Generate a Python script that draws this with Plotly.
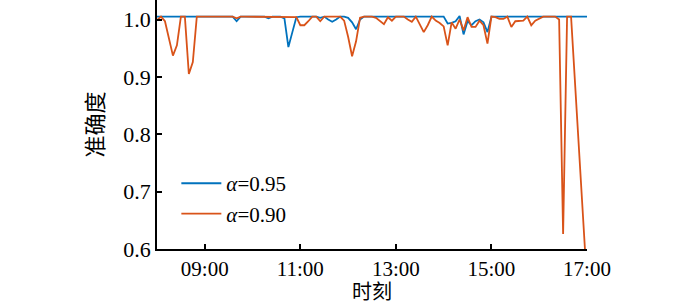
import plotly.graph_objects as go
from datetime import datetime, timedelta

# sampling times: every 5 minutes from 08:00 to 17:00
start = datetime(2020, 1, 1, 8, 0)
times = [start + timedelta(minutes=5 * i) for i in range(109)]

acc_095 = [
    1.005, 1.005, 1.005, 1.005, 1.005, 1.005, 1.005, 1.005, 1.005, 1.005,  # 0-9
    1.005, 1.005, 1.005, 1.005, 1.005, 1.005, 1.005, 1.005, 1.005, 1.005,  # 10-19
    0.997, 1.005, 1.005, 1.005, 1.005, 1.005, 1.005, 1.005, 1.002, 1.005,  # 20-29
    1.005, 1.005, 1.002, 0.952, 0.978, 1.004, 1.005, 1.005, 1.005, 1.005,  # 30-39
    1.005, 1.003, 1.005, 1.000, 0.996, 1.000, 1.005, 1.005, 1.003, 0.995,  # 40-49
    0.983, 1.000, 1.005, 1.005, 1.005, 1.005, 1.005, 1.005, 1.005, 1.005,  # 50-59
    1.005, 1.005, 1.005, 1.005, 1.005, 1.005, 1.005, 1.005, 1.005, 1.005,  # 60-69
    1.005, 1.005, 1.005, 0.993, 0.994, 0.997, 1.006, 0.974, 0.997, 0.990,  # 70-79
    0.997, 1.000, 0.995, 0.978, 1.005, 1.005, 1.005, 1.005, 1.005, 1.005,  # 80-89
    1.005, 1.005, 1.005, 1.005, 1.005, 1.005, 1.005, 1.005, 1.005, 1.005,  # 90-99
    1.005, 1.005, 1.005, 1.005, 1.005, 1.005, 1.005, 1.005, 1.005,         # 100-108
]

acc_090 = [
    0.999, 1.005, 0.997, 0.968, 0.937, 0.955, 1.005, 1.005, 0.905, 0.926,  # 0-9
    1.005, 1.005, 1.005, 1.005, 1.005, 1.005, 1.005, 1.005, 1.005, 1.005,  # 10-19
    1.002, 1.005, 1.005, 1.005, 1.005, 1.005, 1.005, 1.005, 1.005, 1.005,  # 20-29
    1.005, 1.005, 1.005, 1.005, 1.005, 1.004, 0.990, 0.990, 0.997, 1.005,  # 30-39
    1.005, 0.997, 1.005, 1.005, 1.005, 1.005, 1.005, 0.998, 0.970, 0.936,  # 40-49
    0.962, 1.003, 1.005, 1.005, 1.005, 1.003, 0.997, 0.992, 1.004, 0.998,  # 50-59
    1.005, 1.005, 1.005, 1.000, 0.996, 1.005, 0.990, 0.978, 0.990, 1.005,  # 60-69
    0.998, 0.994, 0.988, 0.955, 0.995, 0.984, 1.000, 0.981, 1.004, 0.987,  # 70-79
    0.987, 0.998, 0.990, 0.958, 1.005, 1.004, 1.001, 1.001, 1.005, 0.987,  # 80-89
    0.997, 0.997, 0.998, 1.005, 0.990, 0.998, 1.001, 1.005, 1.005, 1.005,  # 90-99
    1.005, 1.000, 0.626, 1.005, 1.005, None, None, None, 0.540,            # 100-108
]

names = ["<i>α</i>=0.95", "<i>α</i>=0.90"]
colors = ["#0072BD", "#D95319"]

x_ticks = [datetime(2020, 1, 1, h, 0) for h in (9, 11, 13, 15, 17)]
x_tick_text = ["09:00", "11:00", "13:00", "15:00", "17:00"]
y_ticks = [0.6, 0.7, 0.8, 0.9, 1.0]

fig = go.Figure()
for vals, name, col in zip([acc_095, acc_090], names, colors):
    fig.add_trace(go.Scatter(
        x=times, y=vals, mode="lines", name=name,
        line=dict(color=col, width=1.8), connectgaps=True,
    ))

serif = "Liberation Serif"
cjk = "Noto Sans CJK SC"

fig.update_layout(
    width=700, height=305,
    margin=dict(l=157, r=113, t=0, b=56),
    paper_bgcolor="white", plot_bgcolor="white",
    font=dict(family=serif, size=22, color="black"),
    showlegend=True,
    legend=dict(
        x=0.045, y=0.345, xanchor="left", yanchor="top",
        bgcolor="rgba(0,0,0,0)", font=dict(family=serif, size=21),
        tracegroupgap=0, itemwidth=40,
    ),
    xaxis=dict(
        range=[times[0], times[-1]],
        tickvals=x_ticks, ticktext=x_tick_text,
        ticks="inside", ticklen=5, tickwidth=1.5, tickcolor="black",
        showline=True, linecolor="black", linewidth=1.5,
        showgrid=False, zeroline=False,
        title=dict(text="时刻", font=dict(family=cjk, size=20), standoff=5),
        tickfont=dict(family=serif, size=21),
    ),
    yaxis=dict(
        range=[0.6, 1.034],
        tickvals=y_ticks, tickformat=".1f",
        ticks="inside", ticklen=5, tickwidth=1.5, tickcolor="black",
        showline=True, linecolor="black", linewidth=1.5,
        showgrid=False, zeroline=False,
        title=dict(text="准确度", font=dict(family=cjk, size=22), standoff=14),
        tickfont=dict(family=serif, size=22),
    ),
)

fig.write_html(
    "out.html",
    config={"displayModeBar": False},
    post_script="document.body.style.margin='0';",
)
